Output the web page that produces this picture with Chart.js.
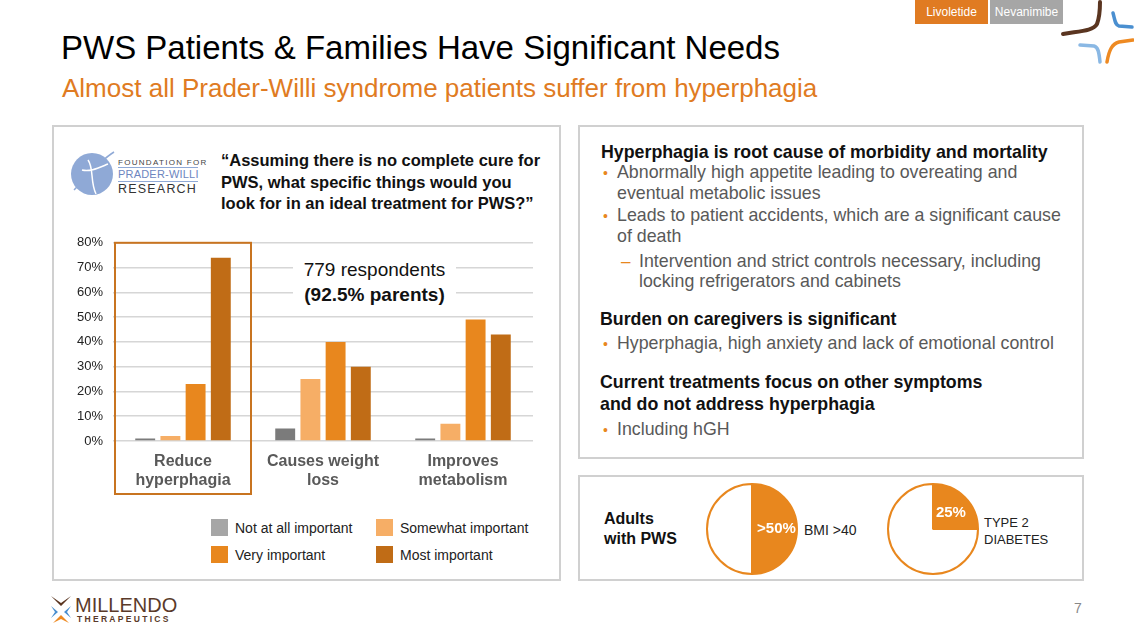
<!DOCTYPE html>
<html>
<head>
<meta charset="utf-8">
<script src="https://cdn.jsdelivr.net/npm/chart.js@4.4.1/dist/chart.umd.min.js"></script>
<style>
  body { margin: 0; background: #fff; font-family: "Liberation Sans", Arial, sans-serif; }
  #slide { position: relative; width: 1134px; height: 635px; overflow: hidden; background: #fff; }
  .abs { position: absolute; white-space: nowrap; }
  .panel { position: absolute; border: 2px solid #d0d0d0; box-sizing: border-box; }
  .hd { font-weight: bold; font-size: 17.8px; color: #111; }
  .bl { font-size: 17.8px; color: #595959; }
  .dot { color: #e8871e; font-size: 14px; }
  .lg { font-size: 14px; color: #222; }
  .sw { position: absolute; width: 17px; height: 17px; }
</style>
</head>
<body>
<div id="slide">
  <!-- top tabs -->
  <div class="abs" style="left:915px;top:0;width:73px;height:24px;background:#e07b22;color:#fff;font-size:12px;text-align:center;line-height:24px;">Livoletide</div>
  <div class="abs" style="left:990px;top:0;width:73px;height:24px;background:#a6a6a6;color:#fff;font-size:12px;text-align:center;line-height:24px;">Nevanimibe</div>
  <svg class="abs" style="left:1060px;top:0" width="74" height="66" viewBox="1060 0 74 66" fill="none" stroke-linecap="round">
    <path d="M1063 34 C1080 31 1093 31 1097 24 C1100 16 1100 8 1100 2" stroke="#5a3520" stroke-width="4"/>
    <path d="M1113 13 C1115 20 1115 25 1119 26 L1132 27" stroke="#4a8fd0" stroke-width="3.5"/>
    <path d="M1080 45 L1094 46 C1098 47 1099 52 1100 62" stroke="#8ab8e4" stroke-width="3.5"/>
    <path d="M1133 40 L1119 42 C1112 44 1109 50 1107 62" stroke="#ee8a22" stroke-width="3.5"/>
  </svg>

  <div class="abs" style="left:61px;top:29px;font-size:33px;color:#000;">PWS Patients &amp; Families Have Significant Needs</div>
  <div class="abs" style="left:62px;top:73px;font-size:26px;color:#e07b22;">Almost all Prader-Willi syndrome patients suffer from hyperphagia</div>

  <!-- panels -->
  <div class="panel" style="left:52px;top:125px;width:509px;height:456px;"></div>
  <div class="panel" style="left:578px;top:125px;width:506px;height:334px;"></div>
  <div class="panel" style="left:578px;top:475px;width:506px;height:106px;"></div>

  <!-- FPWR logo -->
  <svg class="abs" style="left:68px;top:148px" width="52" height="54" viewBox="0 0 52 54">
    <circle cx="24" cy="26" r="21" fill="#8fa9d6"/>
    <path d="M6 42 C18 30 30 14 46 4" stroke="#8fa9d6" stroke-width="1.5" fill="none"/>
    <path d="M20 12 C26 20 22 34 28 46 M14 22 C22 24 30 20 40 16" stroke="#fff" stroke-width="1.5" fill="none"/>
  </svg>
  <div class="abs" style="left:118px;top:158px;font-size:8px;letter-spacing:1.3px;color:#444;">FOUNDATION FOR</div>
  <div class="abs" style="left:118px;top:167px;width:80px;border-top:1px solid #8fa9d6;border-bottom:1px solid #8fa9d6;font-size:11px;color:#6d86c0;line-height:13px;letter-spacing:0.2px;">PRADER-WILLI</div>
  <div class="abs" style="left:118px;top:182px;font-size:12.5px;letter-spacing:1.2px;color:#333;">RESEARCH</div>

  <div class="abs" style="left:221px;top:150px;font-size:16.5px;font-weight:bold;color:#111;line-height:21.5px;">“Assuming there is no complete cure for<br>PWS, what specific things would you<br>look for in an ideal treatment for PWS?”</div>

  <canvas id="bars" class="abs" style="left:60px;top:225px" width="480" height="276"></canvas>
  <div class="abs" style="left:293px;top:257px;width:163px;height:54px;background:#fff;text-align:center;font-size:19px;color:#111;line-height:25px;">779 respondents<br><b>(92.5% parents)</b></div>
  <div id="legend"></div>

  <!-- right text -->
  <div class="abs hd" style="left:601px;top:142px;">Hyperphagia is root cause of morbidity and mortality</div>
  <div class="abs dot" style="left:603px;top:165px;">•</div>
  <div class="abs bl" style="left:617px;top:162px;line-height:21px;">Abnormally high appetite leading to overeating and<br>eventual metabolic issues</div>
  <div class="abs dot" style="left:603px;top:208px;">•</div>
  <div class="abs bl" style="left:617px;top:205px;line-height:21px;">Leads to patient accidents, which are a significant cause<br>of death</div>
  <div class="abs" style="left:621px;top:252px;font-size:17px;color:#e8871e;">–</div>
  <div class="abs bl" style="left:639px;top:252px;line-height:19.5px;">Intervention and strict controls necessary, including<br>locking refrigerators and cabinets</div>
  <div class="abs hd" style="left:600px;top:309px;">Burden on caregivers is significant</div>
  <div class="abs dot" style="left:603px;top:336px;">•</div>
  <div class="abs bl" style="left:617px;top:333px;">Hyperphagia, high anxiety and lack of emotional control</div>
  <div class="abs hd" style="left:600px;top:372px;line-height:21.5px;">Current treatments focus on other symptoms<br>and do not address hyperphagia</div>
  <div class="abs dot" style="left:603px;top:422px;">•</div>
  <div class="abs bl" style="left:617px;top:419px;">Including hGH</div>

  <!-- bottom right -->
  <div class="abs" style="left:604px;top:509px;font-size:16px;font-weight:bold;color:#111;line-height:20px;">Adults<br>with PWS</div>
  <canvas id="pie1" class="abs" style="left:705px;top:482px" width="94" height="94"></canvas>
  <div class="abs" style="left:804px;top:522px;font-size:14px;color:#222;">BMI &gt;40</div>
  <canvas id="pie2" class="abs" style="left:886px;top:482px" width="94" height="94"></canvas>
  <div class="abs" style="left:984px;top:514px;font-size:13px;color:#222;line-height:17px;">TYPE 2<br>DIABETES</div>

  <!-- footer -->
  <svg class="abs" style="left:50px;top:594px" width="22" height="30" viewBox="0 0 22 30">
    <path d="M1 2 L11 12 L21 2 L11 9 Z" fill="#5a3520"/>
    <path d="M1 12 L8 18 L1 24 L5 18 Z" fill="#4a8fd0"/>
    <path d="M21 12 L14 18 L21 24 L17 18 Z" fill="#4a8fd0"/>
    <path d="M3 29 L11 21 L19 29 L11 25 Z" fill="#ee8a22"/>
  </svg>
  <div class="abs" style="left:75px;top:594px;font-size:20px;color:#5a3a2a;">MILLENDO</div>
  <div class="abs" style="left:77px;top:614px;font-size:8.5px;font-weight:bold;color:#5a3a2a;letter-spacing:2.3px;">THERAPEUTICS</div>
  <div class="abs" style="left:1074px;top:600px;font-size:14px;color:#888;">7</div>
</div>

<script>
const categories = [["Reduce", "hyperphagia"], ["Causes weight", "loss"], ["Improves", "metabolism"]];
const seriesNames = ["Not at all important", "Somewhat important", "Very important", "Most important"];
const notAtAll = [1, 5, 1];
const somewhat = [2, 25, 7];
const veryImp = [23, 40, 49];
const mostImp = [74, 30, 43];
const yTicks = [0, 10, 20, 30, 40, 50, 60, 70, 80];

const bmiPie = [50, 50];
const bmiLabel = ">50%";
const diabetesPie = [25, 75];
const diabetesLabel = "25%";

const barColors = ["#7b7b7b", "#f6ae66", "#e8871e", "#c06c16"];
const legendColors = ["#a6a6a6", "#f6ae66", "#e8871e", "#c06c16"];
const orange = "#e8871e";

Chart.defaults.font.family = '"Liberation Sans", Arial, sans-serif';

// orange frame around the first category
const frame = {
  id: "frame",
  afterDraw(chart) {
    const x = chart.scales.x, y = chart.scales.y;
    const w = x.width / categories.length;
    const left = x.getPixelForValue(0) - w / 2 + 2;
    const ctx = chart.ctx;
    ctx.save();
    ctx.strokeStyle = "#c87420";
    ctx.lineWidth = 2;
    ctx.strokeRect(left, y.getPixelForValue(80), w - 4, chart.height - 7 - y.getPixelForValue(80));
    ctx.restore();
  },
};

new Chart(document.getElementById("bars").getContext("2d"), {
  type: "bar",
  data: {
    labels: categories,
    datasets: [notAtAll, somewhat, veryImp, mostImp].map((d, i) => ({
      label: seriesNames[i],
      data: d,
      backgroundColor: barColors[i],
      categoryPercentage: 0.72,
      barPercentage: 0.79,
    })),
  },
  options: {
    responsive: false,
    animation: false,
    layout: { padding: { top: 12, right: 7, left: 0, bottom: 0 } },
    plugins: { legend: { display: false }, tooltip: { enabled: false } },
    scales: {
      x: {
        grid: { display: false, drawTicks: false },
        border: { display: false },
        ticks: { color: "#595959", font: { size: 16, weight: "bold" }, padding: 11, maxRotation: 0 },
        afterFit: (s) => { s.height = 60; },
      },
      y: {
        min: 0,
        max: 80,
        afterBuildTicks: (s) => { s.ticks = yTicks.map((v) => ({ value: v })); },
        ticks: { callback: (v) => v + "%", color: "#222", font: { size: 13 }, padding: 10 },
        grid: { color: "#d6d6d6", lineWidth: 1.5, drawTicks: false },
        border: { display: false },
        afterFit: (s) => { s.width = 53; },
      },
    },
  },
  plugins: [frame],
});

// legend, 2 x 2
const legend = document.getElementById("legend");
seriesNames.forEach((name, i) => {
  const left = i % 2 === 0 ? 211 : 376;
  const top = i < 2 ? 519 : 546;
  legend.innerHTML +=
    '<div class="sw" style="left:' + left + "px;top:" + top + "px;background:" + legendColors[i] + '"></div>' +
    '<div class="abs lg" style="left:' + (left + 24) + "px;top:" + (top + 1) + 'px;">' + name + "</div>";
});

// white label on the filled slice
const sliceLabel = {
  id: "sliceLabel",
  afterDraw(chart) {
    const arc = chart.getDatasetMeta(0).data[0];
    const p = arc.tooltipPosition();
    const ctx = chart.ctx;
    ctx.save();
    ctx.fillStyle = "#fff";
    ctx.font = 'bold 15px "Liberation Sans", Arial';
    ctx.textAlign = "center";
    ctx.textBaseline = "middle";
    ctx.fillText(chart.options.plugins.sliceLabel.text, p.x + 2, p.y);
    ctx.restore();
  },
};

function pie(id, values, text) {
  new Chart(document.getElementById(id).getContext("2d"), {
    type: "pie",
    data: {
      datasets: [{ data: values, backgroundColor: [orange, "#fff"], borderColor: orange, borderWidth: 2 }],
    },
    options: {
      responsive: false,
      animation: false,
      layout: { padding: 1 },
      plugins: { legend: { display: false }, tooltip: { enabled: false }, sliceLabel: { text: text } },
    },
    plugins: [sliceLabel],
  });
}
pie("pie1", bmiPie, bmiLabel);
pie("pie2", diabetesPie, diabetesLabel);
</script>
</body>
</html>
